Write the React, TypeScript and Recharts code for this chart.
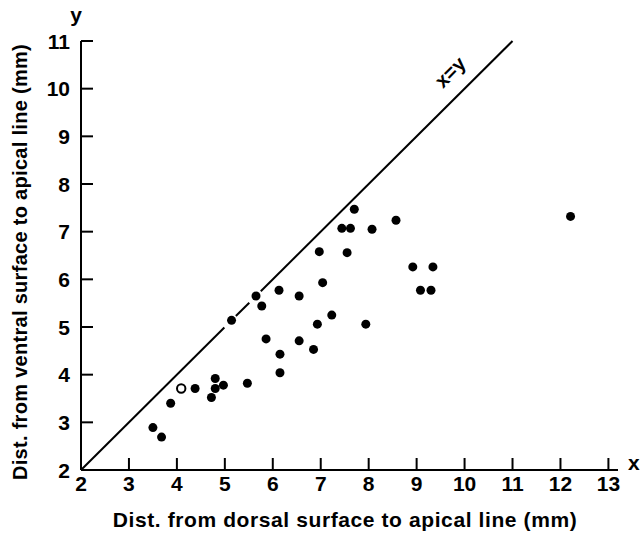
import { ScatterChart, Scatter, XAxis, YAxis, ReferenceLine, Label } from "recharts";

// dorsal (x) vs ventral (y) distances, mm
const FILLED_X = [3.50, 3.68, 3.87, 4.38, 4.80, 4.80, 4.72, 4.97, 5.47, 5.14, 5.65, 5.77, 5.86, 6.13, 6.55, 6.15, 6.15, 6.55, 6.85, 6.93, 7.23, 7.04, 6.97, 7.55, 7.44, 7.62, 7.70, 8.07, 8.57, 7.94, 8.92, 9.34, 9.08, 9.30, 12.21];
const FILLED_Y = [2.89, 2.69, 3.40, 3.71, 3.92, 3.71, 3.52, 3.78, 3.82, 5.14, 5.65, 5.44, 4.75, 5.77, 5.65, 4.43, 4.04, 4.71, 4.53, 5.06, 5.25, 5.93, 6.58, 6.56, 7.07, 7.07, 7.47, 7.05, 7.24, 5.06, 6.26, 6.26, 5.77, 5.77, 7.32];
const OPEN_X = [4.09];
const OPEN_Y = [3.71];

const X_TICKS = [2, 3, 4, 5, 6, 7, 8, 9, 10, 11, 12, 13];
const Y_TICKS = [2, 3, 4, 5, 6, 7, 8, 9, 10, 11];

// the x=y line is broken where two points sit on it
const DIAG_BREAKS = [2, 4.99, 5.23, 5.51, 5.75, 11];

const FONT = "'Liberation Sans', Arial, Helvetica, sans-serif";

const filled = FILLED_X.map((x, i) => ({ x, y: FILLED_Y[i] }));
const open = OPEN_X.map((x, i) => ({ x, y: OPEN_Y[i] }));

const diagSegments: { x: number; y: number }[][] = [];
for (let i = 0; i < DIAG_BREAKS.length; i += 2) {
  const a = DIAG_BREAKS[i], b = DIAG_BREAKS[i + 1];
  diagSegments.push([{ x: a, y: a }, { x: b, y: b }]);
}

const X_MARGIN = 4;
const Y_MARGIN = 11;

function XTick(p: any) {
  const axisY = p.y - X_MARGIN;
  return (
    <g>
      <line x1={p.x} y1={axisY} x2={p.x} y2={axisY - 12} stroke="#000" strokeWidth={2} />
      <text x={p.x} y={axisY + 21} textAnchor="middle" fontFamily={FONT} fontWeight={700} fontSize={21} fill="#000">
        {p.payload.value}
      </text>
    </g>
  );
}

function YTick(p: any) {
  const axisX = p.x + Y_MARGIN;
  return (
    <g>
      <line x1={axisX} y1={p.y} x2={axisX + 12} y2={p.y} stroke="#000" strokeWidth={2} />
      <text x={p.x} y={p.y} dy="0.36em" textAnchor="end" fontFamily={FONT} fontWeight={700} fontSize={21} fill="#000">
        {p.payload.value}
      </text>
    </g>
  );
}

export default function App() {
  return (
    <div style={{ position: "absolute", left: 0, top: 0, background: "#fff" }}>
      <ScatterChart width={641} height={535} margin={{ top: 41, right: 23, bottom: 25, left: 31 }}>
        <XAxis
          type="number" dataKey="x" domain={[2, 13.2]} ticks={X_TICKS} allowDataOverflow
          height={40} tickSize={0} tickMargin={X_MARGIN} tick={<XTick />}
          axisLine={{ stroke: "#000", strokeWidth: 2 }} tickLine={false}
        >
          <Label content={() => (
            <g fontFamily={FONT} fill="#000">
              <text x={345} y={527} textAnchor="middle" fontWeight={700} fontSize={21} letterSpacing={0.6}>
                Dist. from dorsal surface to apical line (mm)
              </text>
              <text x={628} y={470} fontWeight={700} fontSize={21}>x</text>
            </g>
          )} />
        </XAxis>
        <YAxis
          type="number" dataKey="y" domain={[2, 11]} ticks={Y_TICKS} allowDataOverflow
          width={50} tickSize={0} tickMargin={Y_MARGIN} tick={<YTick />}
          axisLine={{ stroke: "#000", strokeWidth: 2 }} tickLine={false}
        >
          <Label content={() => (
            <g fontFamily={FONT} fill="#000">
              <text x={27} y={262} textAnchor="middle" fontWeight={700} fontSize={20} letterSpacing={0.3} transform="rotate(-90 27 262)">
                Dist. from ventral surface to apical line (mm)
              </text>
              <text x={76} y={22} textAnchor="middle" fontWeight={700} fontSize={21}>y</text>
            </g>
          )} />
        </YAxis>
        {diagSegments.map((seg, i) => (
          <ReferenceLine key={i} segment={seg} stroke="#000" strokeWidth={2} ifOverflow="visible" />
        ))}
        <ReferenceLine segment={[{ x: 2, y: 2 }, { x: 2, y: 2 }]} stroke="none" ifOverflow="visible">
          <Label content={() => (
            <text x={455} y={77} textAnchor="middle" fontFamily={FONT} fontWeight={700} fontSize={20} fill="#000" transform="rotate(-45 455 77)">
              x=y
            </text>
          )} />
        </ReferenceLine>
        <Scatter data={filled} isAnimationActive={false}
          shape={(p: any) => <circle cx={p.cx} cy={p.cy} r={4.5} fill="#000" />} />
        <Scatter data={open} isAnimationActive={false}
          shape={(p: any) => <circle cx={p.cx} cy={p.cy} r={4.2} fill="#fff" stroke="#000" strokeWidth={2} />} />
      </ScatterChart>
    </div>
  );
}
